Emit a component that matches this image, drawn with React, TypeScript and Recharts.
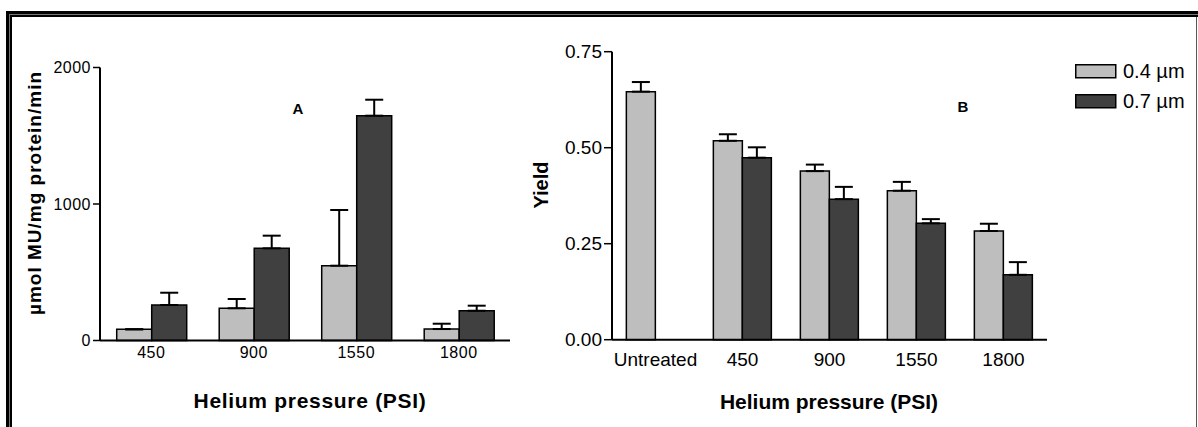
import React from 'react';
import { BarChart, Bar, XAxis, YAxis, ErrorBar, Legend } from 'recharts';

// Panel A: enzyme activity per helium pressure
const pressureA = ['450', '900', '1550', '1800'];
const activitySmall = [82, 236, 548, 84];
const activityLarge = [260, 675, 1647, 218];
const activitySmallErr = [0, 68, 408, 39];
const activityLargeErr = [90, 93, 117, 37];
const activityTicks = [0, 1000, 2000];

// Panel B: yield per helium pressure
const pressureB = ['Untreated', '450', '900', '1550', '1800'];
const yieldSmall = [0.646, 0.518, 0.439, 0.388, 0.283];
const yieldLarge = [0, 0.474, 0.366, 0.303, 0.169];
const yieldSmallErr = [0.025, 0.017, 0.017, 0.023, 0.019];
const yieldLargeErr = [null, 0.027, 0.032, 0.011, 0.033];
const yieldTicks = [0, 0.25, 0.5, 0.75];

const seriesNames = ['0.4 µm', '0.7 µm'];
const seriesColors = ['#bebebe', '#404040'];

const activityRows = pressureA.map((p, i) => ({
  pressure: p,
  small: activitySmall[i],
  large: activityLarge[i],
  smallErr: [0, activitySmallErr[i]],
  largeErr: [0, activityLargeErr[i]],
}));

const yieldRows = pressureB.map((p, i) => ({
  pressure: p,
  small: yieldSmall[i],
  large: yieldLarge[i],
  smallErr: [0, yieldSmallErr[i]],
  largeErr: yieldLargeErr[i] == null ? null : [0, yieldLargeErr[i]],
}));

const FONT = '"Liberation Sans", Arial, sans-serif';
const axisLine = { stroke: '#000', strokeWidth: 2 };

const renderLegend = (props: any) => {
  const items = props.payload || [];
  return (
    <div style={{ fontFamily: FONT }}>
      {items.map((entry: any) => (
        <div key={entry.value} style={{ display: 'flex', alignItems: 'center', height: 30 }}>
          <svg width={42} height={15} style={{ display: 'block' }}>
            <rect x={0.75} y={0.75} width={40} height={13} fill={entry.color} stroke="#000" strokeWidth={1.5} />
          </svg>
          <span style={{ fontSize: 20, marginLeft: 6, color: '#000', lineHeight: '20px' }}>{entry.value}</span>
        </div>
      ))}
    </div>
  );
};

const App: React.FC = () => {
  return (
    <div
      style={{
        position: 'absolute',
        left: 0,
        top: 0,
        width: 1198,
        height: 427,
        background: '#fff',
        fontFamily: FONT,
        overflow: 'hidden',
      }}
    >
      {/* Panel A */}
      <div style={{ position: 'absolute', left: 0, top: 0 }}>
        <BarChart
          width={530}
          height={427}
          data={activityRows}
          margin={{ top: 67.5, right: 20, bottom: 16.5, left: 0 }}
          barCategoryGap="16.3%"
          barGap={0}
        >
          <XAxis
            dataKey="pressure"
            height={70}
            axisLine={axisLine}
            tickLine={false}
            tickSize={0}
            tickMargin={6}
            interval={0}
            tick={{ fill: '#000', fontSize: 16, letterSpacing: 0.5, fontFamily: FONT }}
          />
          <YAxis
            width={100}
            domain={[0, 2000]}
            ticks={activityTicks}
            interval={0}
            axisLine={axisLine}
            tickLine={{ stroke: '#000', strokeWidth: 1.5 }}
            tickSize={7}
            tickMargin={2}
            tick={{ fill: '#000', fontSize: 16, letterSpacing: 0.5, fontFamily: FONT }}
          />
          <Bar dataKey="small" name={seriesNames[0]} fill={seriesColors[0]} stroke="#000" strokeWidth={1.5} isAnimationActive={false}>
            <ErrorBar dataKey="smallErr" direction="y" width={9} stroke="#000" strokeWidth={2} />
          </Bar>
          <Bar dataKey="large" name={seriesNames[1]} fill={seriesColors[1]} stroke="#000" strokeWidth={1.5} isAnimationActive={false}>
            <ErrorBar dataKey="largeErr" direction="y" width={9} stroke="#000" strokeWidth={2} />
          </Bar>
        </BarChart>
      </div>

      {/* Panel B */}
      <div style={{ position: 'absolute', left: 530, top: 0 }}>
        <BarChart
          width={668}
          height={427}
          data={yieldRows}
          margin={{ top: 51.7, right: 151, bottom: 17.3, left: 0 }}
          barCategoryGap="16.5%"
          barGap={0}
        >
          <XAxis
            dataKey="pressure"
            height={70}
            axisLine={axisLine}
            tickLine={false}
            tickSize={0}
            tickMargin={13}
            interval={0}
            tick={{ fill: '#000', fontSize: 19, fontFamily: FONT }}
          />
          <YAxis
            width={82}
            domain={[0, 0.75]}
            ticks={yieldTicks}
            interval={0}
            tickFormatter={(v: number) => v.toFixed(2)}
            axisLine={axisLine}
            tickLine={{ stroke: '#000', strokeWidth: 1.5 }}
            tickSize={8}
            tickMargin={2}
            tick={{ fill: '#000', fontSize: 19, fontFamily: FONT }}
          />
          <Legend
            layout="horizontal"
            verticalAlign="middle"
            align="center"
            wrapperStyle={{ left: 545, top: 56, width: 123 }}
            content={renderLegend}
          />
          <Bar dataKey="small" name={seriesNames[0]} fill={seriesColors[0]} stroke="#000" strokeWidth={1.5} isAnimationActive={false}>
            <ErrorBar dataKey="smallErr" direction="y" width={9} stroke="#000" strokeWidth={2} />
          </Bar>
          <Bar dataKey="large" name={seriesNames[1]} fill={seriesColors[1]} stroke="#000" strokeWidth={1.5} isAnimationActive={false}>
            <ErrorBar dataKey="largeErr" direction="y" width={9} stroke="#000" strokeWidth={2} />
          </Bar>
        </BarChart>
      </div>

      {/* Titles, panel letters and the double frame */}
      <svg
        width={1198}
        height={427}
        style={{ position: 'absolute', left: 0, top: 0, pointerEvents: 'none' }}
        fontFamily={FONT}
      >
        <text x={34} y={193} transform="rotate(-90 34 193)" textAnchor="middle" dominantBaseline="central" fontSize={19} fontWeight="bold" letterSpacing={1}>
          µmol MU/mg protein/min
        </text>
        <text x={310} y={400} textAnchor="middle" dominantBaseline="central" fontSize={21} fontWeight="bold" letterSpacing={0.7}>
          Helium pressure (PSI)
        </text>
        <text x={298} y={108} textAnchor="middle" dominantBaseline="central" fontSize={15} fontWeight="bold">
          A
        </text>

        <text x={541} y={185} transform="rotate(-90 541 185)" textAnchor="middle" dominantBaseline="central" fontSize={20} fontWeight="bold">
          Yield
        </text>
        <text x={829} y={401} textAnchor="middle" dominantBaseline="central" fontSize={21} fontWeight="bold">
          Helium pressure (PSI)
        </text>
        <text x={963} y={106} textAnchor="middle" dominantBaseline="central" fontSize={15} fontWeight="bold">
          B
        </text>

        <rect x={6} y={11} width={1192} height={3} fill="#000" />
        <rect x={9} y={14} width={1189} height={1} fill="#777" />
        <rect x={10} y={15} width={1188} height={2} fill="#000" />
        <rect x={6} y={11} width={3} height={416} fill="#000" />
        <rect x={9} y={14} width={1} height={413} fill="#777" />
        <rect x={10} y={15} width={2} height={412} fill="#000" />
        <rect x={1196} y={17} width={1} height={410} fill="#555" />
      </svg>
    </div>
  );
};

export default App;
